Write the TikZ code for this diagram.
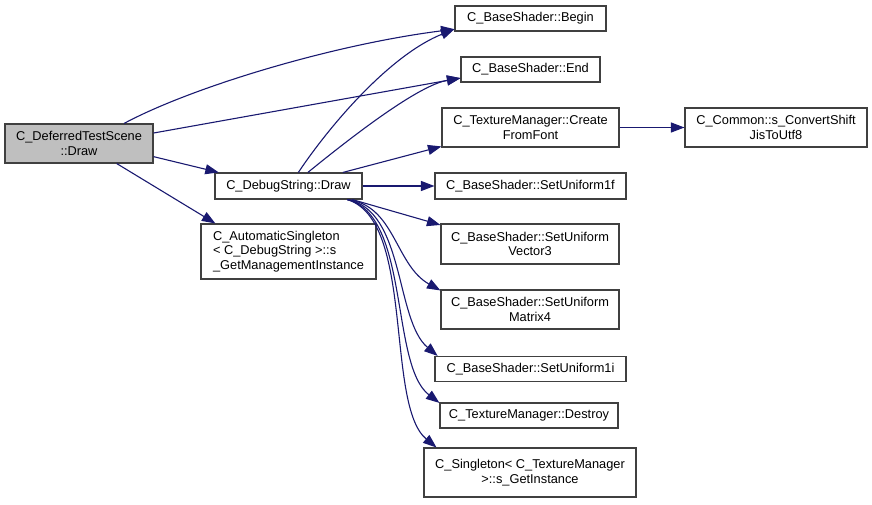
\documentclass[tikz,border=0pt]{standalone}
\usepackage{fontspec}
\setmainfont{Liberation Sans}
\usepackage{xcolor}
\definecolor{edgeDox}{HTML}{191970}
\definecolor{rootDox}{HTML}{BFBFBF}
\usetikzlibrary{arrows.meta}

\begin{document}
\begin{tikzpicture}[x=1pt,y=-1pt,
  fn/.style={draw=black!75,line width=1.1pt,fill=white,inner sep=0pt,
    align=center,font=\fontsize{12.8}{14.5}\selectfont},
  rootfn/.style={fn,fill=rootDox},
  arr/.style={-{Triangle[length=13.5pt,width=10pt]},line width=1.1pt,draw=edgeDox}]
  \useasboundingbox (0,0) rectangle (872,505);
  \node[rootfn,minimum width=148pt,minimum height=39pt] (scene) at (79,143.5)
    {C\_DeferredTestScene\\::Draw};
  \node[fn,minimum width=147pt,minimum height=26pt] (dsdraw) at (288.5,186)
    {C\_DebugString::Draw};
  \node[fn,align=left,minimum width=175pt,minimum height=55pt] (autosing) at (288.5,251.5)
    {C\_AutomaticSingleton\\< C\_DebugString >::s\\\_GetManagementInstance};
  \node[fn,minimum width=151pt,minimum height=25pt] (begin) at (530.5,18.5)
    {C\_BaseShader::Begin};
  \node[fn,minimum width=139pt,minimum height=25pt] (endn) at (530.5,69.5)
    {C\_BaseShader::End};
  \node[fn,minimum width=177pt,minimum height=39pt] (create) at (530.5,127.5)
    {C\_TextureManager::Create\\FromFont};
  \node[fn,minimum width=182pt,minimum height=39pt] (convert) at (776,127.5)
    {C\_Common::s\_ConvertShift\\JisToUtf8};
  \node[fn,minimum width=191pt,minimum height=26pt] (suf) at (530.5,186)
    {C\_BaseShader::SetUniform1f};
  \node[fn,minimum width=178pt,minimum height=40pt] (vecthree) at (530,244)
    {C\_BaseShader::SetUniform\\Vector3};
  \node[fn,minimum width=178pt,minimum height=39pt] (matfour) at (530,309.5)
    {C\_BaseShader::SetUniform\\Matrix4};
  \node[fn,minimum width=191pt,minimum height=25pt] (sui) at (530.5,369)
    {C\_BaseShader::SetUniform1i};
  \node[fn,minimum width=178pt,minimum height=25pt] (destroy) at (529,415.5)
    {C\_TextureManager::Destroy};
  \node[fn,minimum width=212pt,minimum height=49pt] (single) at (530,472.5)
    {C\_Singleton< C\_TextureManager\\>::s\_GetInstance};
  % calls of C_DeferredTestScene::Draw
  \draw[arr] (scene.24) .. controls (190,88) and (330,45) .. (begin.188);
  \draw[arr] (scene.8) -- (endn.187);
  \draw[arr] (scene.-10) -- (dsdraw.169);
  \draw[arr] (scene.-28) -- (autosing.159);
  % calls of C_DebugString::Draw
  \draw[arr] (dsdraw.54) .. controls (330,125) and (390,55) .. (begin.188);
  \draw[arr] (dsdraw.35) .. controls (360,130) and (420,85) .. (endn.187);
  \draw[arr] (dsdraw.14) -- (create.192);
  \draw[arr] (dsdraw) -- (suf);
  \draw[arr] (dsdraw.-12) -- (vecthree.168);
  \draw[arr] (dsdraw.-13) .. controls (395,205) and (395,265) .. (matfour.168);
  \draw[arr] (dsdraw.-13) .. controls (405,210) and (395,320) .. (sui.172);
  \draw[arr] (dsdraw.-13) .. controls (410,215) and (390,365) .. (destroy.172);
  \draw[arr] (dsdraw.-13) .. controls (415,220) and (385,405) .. (single.165);
  \draw[arr] (create) -- (convert);
\end{tikzpicture}
\end{document}
